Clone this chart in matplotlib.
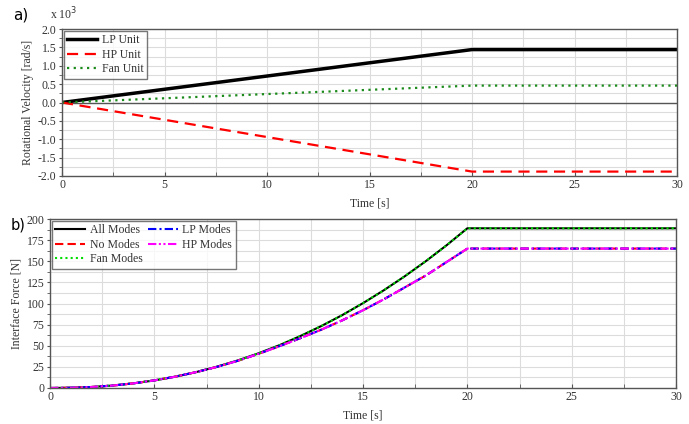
import matplotlib
matplotlib.use("Agg")
import matplotlib.pyplot as plt
from matplotlib.ticker import MultipleLocator, FormatStrFormatter
import numpy as np

# ---- data (top panel, values in 10^3 rad/s) ----
t_vel = [0, 20, 30]
lp_unit = [0.0, 1.44, 1.44]
hp_unit = [0.0, -1.88, -1.88]
fan_unit = [0.0, 0.46, 0.46]

# ---- data (bottom panel, interface force in N) ----
t_force = [0, 1, 2, 3, 4, 5, 6, 7, 8, 9, 10, 11, 12, 13, 14, 15, 16, 17, 18, 19, 20, 25, 30]
force_upper = [0, 0.3, 1.2, 2.9, 5.5, 9.0, 13.4, 18.8, 25.2, 32.6, 41.1, 50.7, 61.5, 73.3,
               86.2, 100.4, 115.7, 132.2, 149.9, 168.8, 189, 189, 189]
force_lower = [0, 0.3, 1.2, 2.9, 5.5, 9.0, 13.4, 18.8, 25.0, 32.2, 40.5, 49.5, 59.0, 69.0,
               80.0, 92.0, 105.0, 119.0, 133.0, 149.0, 165, 165, 165]
all_modes = force_upper
fan_modes = force_upper
no_modes = force_lower
lp_modes = force_lower
hp_modes = force_lower

plt.rcParams['font.family'] = ['Liberation Serif', 'DejaVu Serif']
W, H = 689, 424
fig = plt.figure(figsize=(W / 100, H / 100), dpi=100)

gridc = '#dcdcdc'
spinec = '#555555'
textc = '#333333'
fs = 8.5

def style(ax):
    for s in ax.spines.values():
        s.set_color(spinec)
        s.set_linewidth(1.0)
    ax.tick_params(axis='both', which='both', colors=spinec, labelcolor=textc, labelsize=fs)
    ax.tick_params(axis='x', which='both', direction='in', length=3, pad=2.5)
    ax.tick_params(axis='y', which='major', direction='out', length=2.5, pad=1.5)
    ax.tick_params(axis='y', which='minor', direction='out', length=2)
    ax.grid(True, which='both', color=gridc, linewidth=0.8)
    ax.set_axisbelow(True)

leg_kw = dict(fontsize=fs, frameon=True, fancybox=False, edgecolor=spinec,
              borderaxespad=0.15, handlelength=2.5, borderpad=0.3,
              labelspacing=0.2, handletextpad=0.4)

# ---- top axes ----
ax1 = fig.add_axes([62 / W, 1 - 176 / H, (677 - 62) / W, (176 - 29) / H])
ax1.axhline(0, color=spinec, linewidth=1.0, zorder=1.5)
ax1.plot(t_vel, lp_unit, color='black', linewidth=2.5, label='LP Unit')
ax1.plot(t_vel, hp_unit, color='#ff0000', linewidth=1.6, linestyle=(0, (5, 3)), label='HP Unit')
ax1.plot(t_vel, fan_unit, color='#1a8a1a', linewidth=1.6, linestyle=(0, (1, 2)), label='Fan Unit')
ax1.set_xlim(0, 30)
ax1.set_ylim(-2, 2)
ax1.xaxis.set_major_locator(MultipleLocator(5))
ax1.xaxis.set_minor_locator(MultipleLocator(2.5))
ax1.yaxis.set_major_locator(MultipleLocator(0.5))
ax1.yaxis.set_minor_locator(MultipleLocator(0.25))
ax1.yaxis.set_major_formatter(FormatStrFormatter('%.1f'))
style(ax1)
ax1.set_ylabel('Rotational Velocity [rad/s]', fontsize=fs, color=textc, labelpad=3)
ax1.set_xlabel('Time [s]', fontsize=fs, color=textc, labelpad=4)
leg1 = ax1.legend(loc='upper left', **leg_kw)
leg1.get_frame().set_linewidth(1.0)
for txt in leg1.get_texts():
    txt.set_color(textc)
fig.text(50 / W, 1 - 14 / H, r'x 10$^3$', fontsize=fs, color=textc, va='center', ha='left')

# ---- bottom axes ----
ax2 = fig.add_axes([50 / W, 1 - 388 / H, (676 - 50) / W, (388 - 219) / H])
ax2.plot(t_force, all_modes, color='black', linewidth=1.5, label='All Modes')
ax2.plot(t_force, no_modes, color='#ff0000', linewidth=1.5, linestyle=(0, (4, 2)), label='No Modes')
ax2.plot(t_force, fan_modes, color='#00dd00', linewidth=1.5, linestyle=(0, (1, 1.5)), label='Fan Modes')
ax2.plot(t_force, lp_modes, color='#0000ff', linewidth=1.5, linestyle=(0, (4, 1.5, 1, 1.5)), label='LP Modes')
ax2.plot(t_force, hp_modes, color='#ff00ff', linewidth=1.5, linestyle=(0, (4, 1.2, 1, 1.2, 1, 1.2)), label='HP Modes')
ax2.set_xlim(0, 30)
ax2.set_ylim(0, 200)
ax2.xaxis.set_major_locator(MultipleLocator(5))
ax2.xaxis.set_minor_locator(MultipleLocator(2.5))
ax2.yaxis.set_major_locator(MultipleLocator(25))
ax2.yaxis.set_minor_locator(MultipleLocator(12.5))
style(ax2)
ax2.set_ylabel('Interface Force [N]', fontsize=fs, color=textc, labelpad=3)
ax2.set_xlabel('Time [s]', fontsize=fs, color=textc, labelpad=4)
leg2 = ax2.legend(loc='upper left', ncol=2, columnspacing=0.5, **leg_kw)
leg2.get_frame().set_linewidth(1.0)
for txt in leg2.get_texts():
    txt.set_color(textc)

fig.text(13 / W, 1 - 15 / H, 'a)', fontsize=11, family='DejaVu Sans', va='center', ha='left')
fig.text(11 / W, 1 - 225 / H, 'b)', fontsize=10.5, family='DejaVu Sans', va='center', ha='left')

fig.savefig('out.png', dpi=100)
